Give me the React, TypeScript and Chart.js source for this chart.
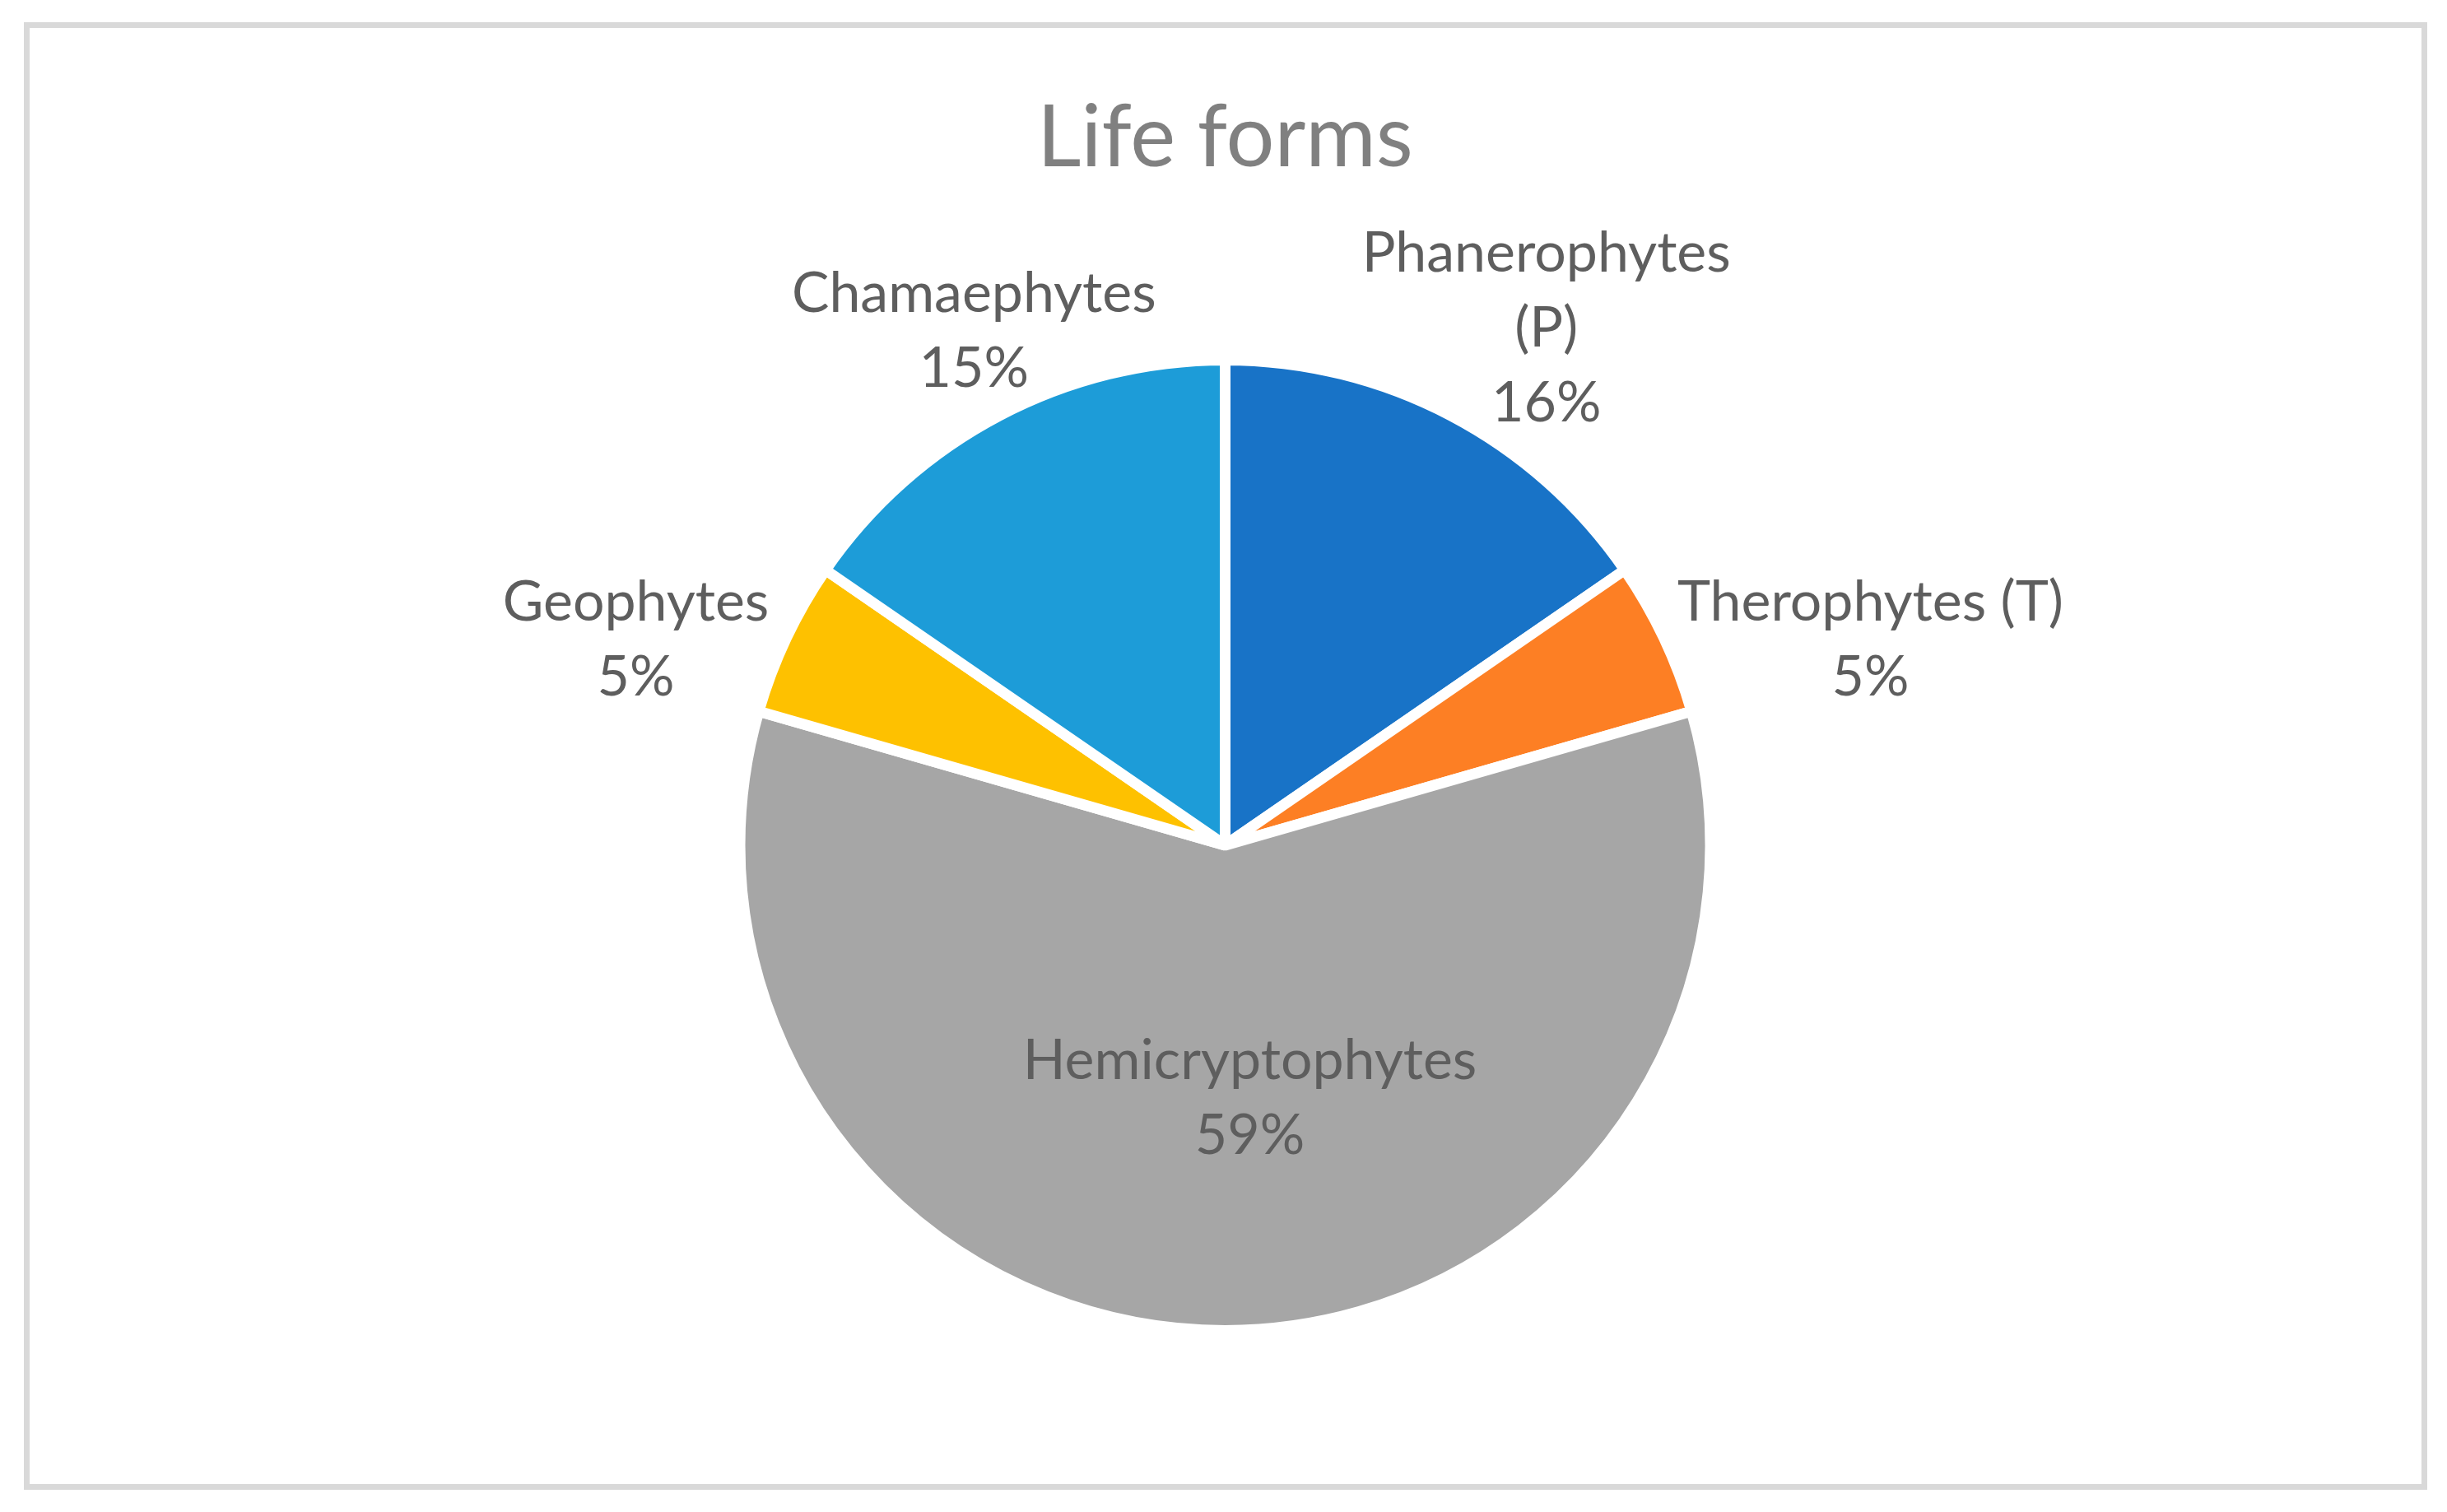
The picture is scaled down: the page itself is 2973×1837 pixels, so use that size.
import React, { useEffect, useRef } from "react";
import { Chart, registerables } from "chart.js";

Chart.register(...registerables);

// ---- data ----
const titleText = "Life forms";
const categories = ["Phanerophytes (P)", "Therophytes (T)", "Hemicryptophytes", "Geophytes", "Chamaephytes"];
const shares = [15.4, 5.15, 58.9, 5.15, 15.4];
const percentLabels = ["16%", "5%", "59%", "5%", "15%"];

// ---- styling / layout ----
const sliceColors = ["#1873c7", "#fd7f24", "#a6a6a6", "#fec100", "#1d9cd8"];
const labelRadius = [1, 1, 0.5, 1, 1];
const labelNudge: [number, number][] = [
  [116, -108],
  [251, 0],
  [30, 10],
  [-183, 0],
  [-31, -105],
];
const labelWrap = [420, 0, 0, 0, 0];

const FONT = "Lato, 'Open Sans', sans-serif";
const LABEL_SIZE = 68;
const LABEL_LINE = 91;
const TITLE_SIZE = 104;

export default function App() {
  const ref = useRef<HTMLCanvasElement>(null);

  useEffect(() => {
    document.body.style.margin = "0";
    document.body.style.overflow = "hidden";
    const canvas = ref.current!;

    const framePlugin = {
      id: "frame",
      beforeDraw(chart: any) {
        const { ctx, width, height } = chart;
        ctx.save();
        ctx.fillStyle = "#ffffff";
        ctx.fillRect(0, 0, width, height);
        ctx.strokeStyle = "#d9d9d9";
        ctx.lineWidth = 7;
        ctx.strokeRect(32.5, 30.5, 2913, 1776);
        ctx.restore();
      },
    };

    const labelPlugin = {
      id: "sliceLabels",
      afterDatasetsDraw(chart: any) {
        const { ctx } = chart;
        const meta = chart.getDatasetMeta(0);
        ctx.save();
        ctx.font = `${LABEL_SIZE}px ${FONT}`;
        ctx.fillStyle = "#5e5e5e";
        ctx.textAlign = "center";
        ctx.textBaseline = "alphabetic";
        meta.data.forEach((arc: any, i: number) => {
          const { x, y, startAngle, endAngle, outerRadius } = arc.getProps(
            ["x", "y", "startAngle", "endAngle", "outerRadius"],
            true
          );
          const mid = (startAngle + endAngle) / 2;
          const r = outerRadius * labelRadius[i];
          const cx = x + Math.cos(mid) * r + labelNudge[i][0];
          const cy = y + Math.sin(mid) * r + labelNudge[i][1];
          const lines: string[] = [];
          const words = categories[i].split(" ");
          if (labelWrap[i] > 0) {
            let cur = "";
            words.forEach((w) => {
              const test = cur ? cur + " " + w : w;
              if (cur && ctx.measureText(test).width > labelWrap[i]) {
                lines.push(cur);
                cur = w;
              } else cur = test;
            });
            if (cur) lines.push(cur);
          } else {
            lines.push(categories[i]);
          }
          lines.push(percentLabels[i]);
          const capHalf = LABEL_SIZE * 0.7165 * 0.5;
          const n = lines.length;
          lines.forEach((ln, k) => {
            const ly = cy + (k - (n - 1) / 2) * LABEL_LINE + capHalf;
            ctx.fillText(ln, cx, ly);
          });
        });
        ctx.restore();
      },
    };

    const chart = new Chart(canvas, {
      type: "pie",
      data: {
        labels: categories,
        datasets: [
          {
            data: shares,
            backgroundColor: sliceColors,
            borderColor: "#ffffff",
            borderWidth: 13,
            hoverBorderWidth: 13,
            hoverOffset: 0,
          },
        ],
      },
      options: {
        animation: false,
        responsive: false,
        events: [],
        radius: 589.5,
        layout: { padding: { top: 0, bottom: 14, left: 4, right: 0 } },
        plugins: {
          legend: { display: false },
          tooltip: { enabled: false },
          title: {
            display: true,
            text: titleText,
            color: "#808080",
            font: { family: FONT, size: TITLE_SIZE, weight: "normal", lineHeight: 1.2 },
            padding: { top: 106, bottom: 0 },
          },
        },
      } as any,
      plugins: [framePlugin, labelPlugin],
    });
    return () => chart.destroy();
  }, []);

  return <canvas ref={ref} width={2973} height={1837} style={{ display: "block" }} />;
}
